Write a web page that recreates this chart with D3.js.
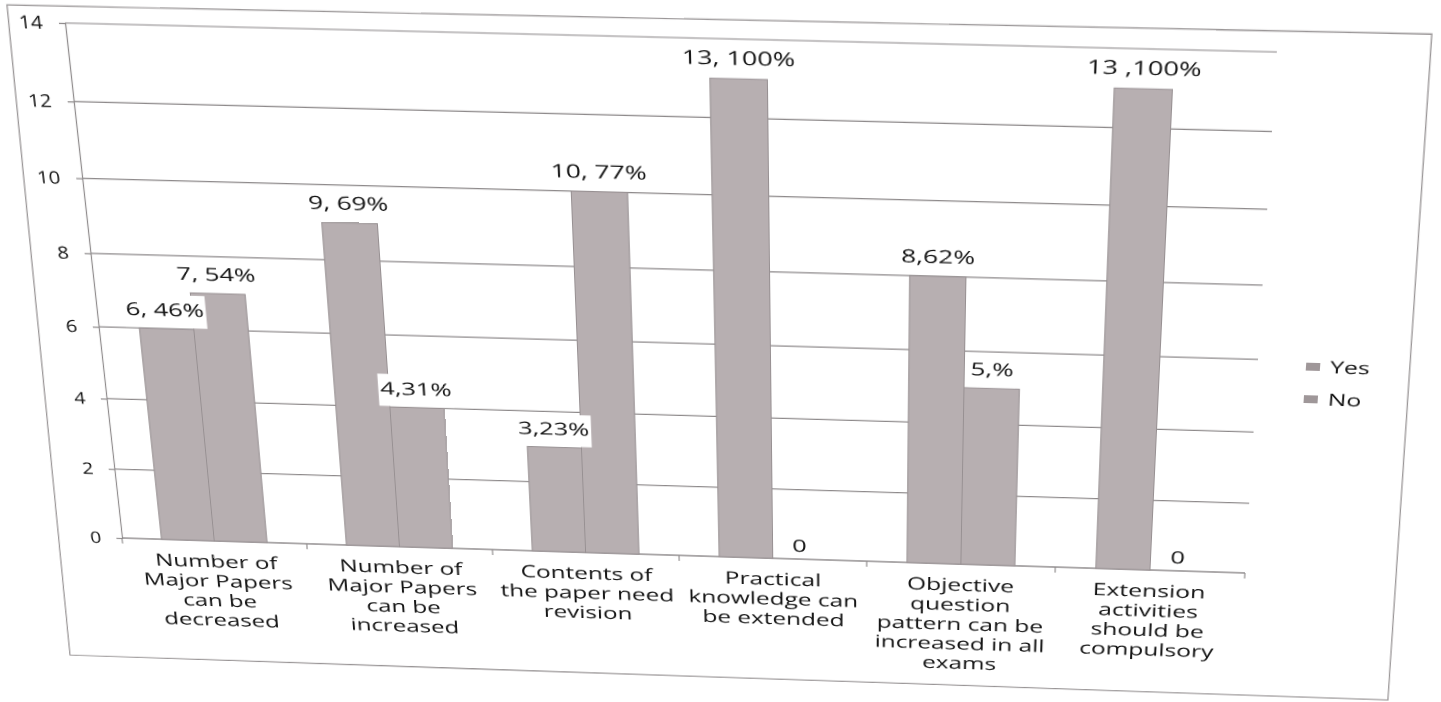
<!DOCTYPE html>
<html>
<head>
<meta charset="utf-8">
<script src="https://cdn.jsdelivr.net/npm/d3@7/dist/d3.min.js"></script>
<style>
  html, body { margin: 0; padding: 0; background: #fff; overflow: hidden; }
  #chart { position: absolute; left: 0; top: 0; transform-origin: 0 0; }
  text { font-family: "Open Sans", "DejaVu Sans", sans-serif; fill: #151515; }
</style>
</head>
<body>
<svg id="chart" width="1700" height="860"></svg>
<script>
// ---------------- data ----------------
const categories = [
  ["Number of", "Major Papers", "can be", "decreased"],
  ["Number of", "Major Papers", "can be", "increased"],
  ["Contents of", "the paper need", "revision"],
  ["Practical", "knowledge can", "be extended"],
  ["Objective", "question", "pattern can be", "increased in all", "exams"],
  ["Extension", "activities", "should be", "compulsory"]
];
const seriesNames = ["Yes", "No"];
const yesValues = [6, 9, 3, 13, 8, 13];
const noValues  = [7, 4, 10, 0, 5, 0];
const yesLabels = ["6, 46%", "9, 69%", "3,23%", "13, 100%", "8,62%", "13 ,100%"];
const noLabels  = ["7, 54%", "4,31%", "10, 77%", "0", "5,%", "0"];
const yTicks = [0, 2, 4, 6, 8, 10, 12, 14];

// ---------------- layout (flat) ----------------
const OX = 160, OY = 70;     // flat origin inside svg
const PW = 1170, PH = 520;   // plot size in flat coords

// perspective of the photographed page: plot corners -> picture corners
function solve(A, b) {
  const n = b.length;
  const M = A.map((r, i) => r.concat([b[i]]));
  for (let c = 0; c < n; c++) {
    let p = c;
    for (let r = c + 1; r < n; r++) if (Math.abs(M[r][c]) > Math.abs(M[p][c])) p = r;
    [M[c], M[p]] = [M[p], M[c]];
    for (let r = 0; r < n; r++) {
      if (r === c) continue;
      const f = M[r][c] / M[c][c];
      for (let k = c; k <= n; k++) M[r][k] -= f * M[c][k];
    }
  }
  return M.map((r, i) => r[n] / r[i]);
}
function homography(src, dst) {
  const A = [], b = [];
  for (let i = 0; i < 4; i++) {
    const [xs, ys] = src[i], [X, Y] = dst[i];
    A.push([xs, ys, 1, 0, 0, 0, -X * xs, -X * ys]); b.push(X);
    A.push([0, 0, 0, xs, ys, 1, -Y * xs, -Y * ys]); b.push(Y);
  }
  return solve(A, b);
}
const src = [[OX, OY], [OX + PW, OY], [OX + PW, OY + PH], [OX, OY + PH]];
const dst = [[65, 23], [1277, 52], [1245, 573], [122, 538]];
const h = homography(src, dst);
const hInv = homography(dst, src);
function toFlat([X, Y]) {
  const w = hInv[6] * X + hInv[7] * Y + 1;
  return [(hInv[0] * X + hInv[1] * Y + hInv[2]) / w - OX,
          (hInv[3] * X + hInv[4] * Y + hInv[5]) / w - OY];
}
const pageBorder = [[7, 5], [1432, 34], [1388, 700], [70, 655]].map(toFlat);

const svg = d3.select("#chart");
const g = svg.append("g").attr("transform", `translate(${OX},${OY})`);

const catIdx = categories.map((d, i) => i);
const x0 = d3.scaleBand().domain(catIdx).range([0, PW]).padding(0);
const x1 = d3.scaleBand().domain(seriesNames).range([0, x0.bandwidth()]).paddingInner(0).paddingOuter(0.75);
const y = d3.scaleLinear().domain([0, 14]).range([PH, 0]);

const lineCol = "#8e8a8b";
const barFill = "#b7afb1";
const barStroke = "#979092";

// outer chart border
g.append("path")
  .attr("d", d3.line()(pageBorder) + "Z")
  .attr("fill", "none").attr("stroke", "#9a9697").attr("stroke-width", 1.3);

// gridlines
g.append("g").selectAll("line").data(yTicks.filter(t => t > 0)).join("line")
  .attr("x1", 0).attr("x2", PW)
  .attr("y1", d => y(d)).attr("y2", d => y(d))
  .attr("stroke", lineCol).attr("stroke-width", 1.2);

// y axis
const yAxis = g.append("g").call(d3.axisLeft(y).tickValues(yTicks).tickSize(6).tickFormat(""));
yAxis.select(".domain").attr("stroke", lineCol).attr("stroke-width", 1.2);
yAxis.selectAll(".tick line").attr("stroke", lineCol).attr("stroke-width", 1.2);

g.append("g").selectAll("text").data(yTicks).join("text")
  .attr("transform", d => `translate(-22,${y(d) + 6}) scale(1.2,1)`)
  .attr("text-anchor", "end")
  .attr("font-size", 17)
  .text(d => d);

// x axis (baseline + ticks at category boundaries)
g.append("line").attr("x1", 0).attr("x2", PW).attr("y1", PH).attr("y2", PH)
  .attr("stroke", lineCol).attr("stroke-width", 1.3);
const bounds = catIdx.map(i => x0(i)).concat([PW]);
g.append("g").selectAll("line").data(bounds).join("line")
  .attr("x1", d => d).attr("x2", d => d).attr("y1", PH).attr("y2", PH + 6)
  .attr("stroke", lineCol).attr("stroke-width", 1.2);

// bars
const rows = [];
catIdx.forEach(i => {
  rows.push({ cat: i, s: "Yes", v: yesValues[i], label: yesLabels[i] });
  rows.push({ cat: i, s: "No", v: noValues[i], label: noLabels[i] });
});
g.append("g").selectAll("rect").data(rows.filter(r => r.v > 0)).join("rect")
  .attr("x", d => x0(d.cat) + x1(d.s))
  .attr("y", d => y(d.v))
  .attr("width", x1.bandwidth())
  .attr("height", d => PH - y(d.v))
  .attr("fill", barFill).attr("stroke", barStroke).attr("stroke-width", 1);

// data labels with white boxes
const lblG = g.append("g");
const labelNodes = lblG.selectAll("g.lbl").data(rows).join("g").attr("class", "lbl");
labelNodes.append("rect").attr("class", "bg").attr("fill", "#fff");
labelNodes.append("text")
  .attr("text-anchor", "middle")
  .attr("font-size", 18)
  .attr("transform", d => `translate(${x0(d.cat) + x1(d.s) + x1.bandwidth() / 2},${y(d.v) - (d.v > 0 ? 13 : 8)}) scale(1.45,1)`)
  .text(d => d.label);
labelNodes.each(function(d) {
  if (d.v === 0) return;
  const t = d3.select(this).select("text");
  const bb = t.node().getBBox();
  const cx = x0(d.cat) + x1(d.s) + x1.bandwidth() / 2;
  const w = bb.width * 1.45;
  const top = y(d.v) - 13 + bb.y - 2;
  d3.select(this).select("rect.bg")
    .attr("x", cx - w / 2 - 2).attr("y", top)
    .attr("width", w + 4).attr("height", y(d.v) - top - 1);
});

// category labels
const catG = g.append("g").selectAll("text").data(catIdx).join("text")
  .attr("text-anchor", "middle")
  .attr("font-size", 18.5)
  .attr("transform", i => `translate(${x0(i) + x0.bandwidth() / 2},${PH + 29}) scale(1.38,1)`);
catG.selectAll("tspan").data(i => categories[i]).join("tspan")
  .attr("x", 0).attr("dy", (d, k) => k === 0 ? 0 : 21.5)
  .text(d => d);

// legend
const leg = g.append("g").attr("transform", `translate(${PW + 48},${303})`);
seriesNames.forEach((s, k) => {
  const row = leg.append("g").attr("transform", `translate(0,${k * 33})`);
  row.append("rect").attr("x", 0).attr("y", -4).attr("width", 14).attr("height", 8)
    .attr("fill", "#9f9799");
  row.append("text").attr("transform", "translate(24,6) scale(1.45,1)")
    .attr("font-size", 17).text(s);
});

const m = [h[0], h[3], 0, h[6], h[1], h[4], 0, h[7], 0, 0, 1, 0, h[2], h[5], 0, 1];
d3.select("#chart").style("transform", `matrix3d(${m.join(",")})`);
</script>
</body>
</html>
